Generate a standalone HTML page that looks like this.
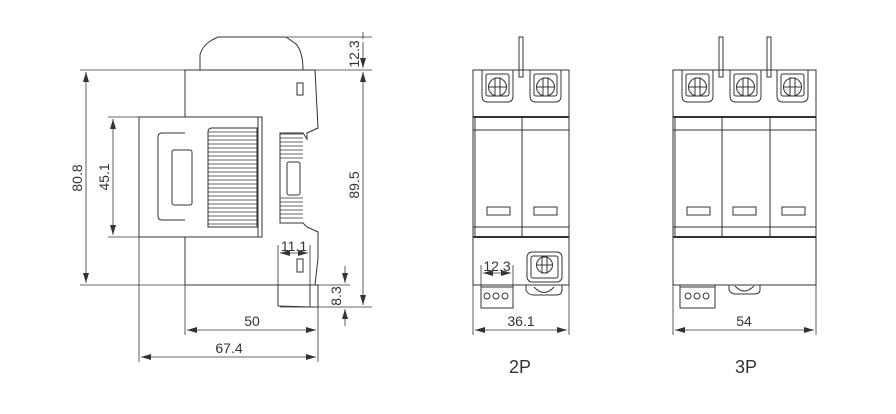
<!DOCTYPE html>
<html><head><meta charset="utf-8"><style>
html,body{margin:0;padding:0;background:#fff;}
svg{display:block;}
text{font-family:"Liberation Sans",sans-serif;fill:#333;font-size:14px;}
</style></head><body>
<svg width="896" height="414" viewBox="0 0 896 414" xmlns="http://www.w3.org/2000/svg">
<defs>
<marker id="a" markerWidth="10" markerHeight="6" refX="10" refY="3" orient="auto-start-reverse" markerUnits="userSpaceOnUse"><path d="M0,0 L10,3 L0,6 z" fill="#333"/></marker>
<g id="term"><path d="M0,0 v26 q0,6 6,6 h19 q6,0 6,-6 v-26" fill="none" stroke="#333"/><rect x="4" y="4" width="23" height="22" rx="2" fill="none" stroke="#333"/><circle cx="15.5" cy="17" r="9" fill="none" stroke="#333"/><rect x="13" y="8" width="5" height="18" fill="none" stroke="#333"/><line x1="6.5" y1="17" x2="24.5" y2="17" stroke="#333"/></g>
</defs>
<g stroke="#333" stroke-width="1" fill="none">
<path d="M200,70 V55 Q202,46 212,40 L218,37 H286 L296,44 Q303,52 303,70"/>
<path d="M185,70 H315 L318,128 L307,133 V139 L303,133 H280 V223 H303 L307,227 L318,232 V258 L315,285 H185 V237 H139 V117 H185 Z"/>
<rect x="139" y="117" width="123" height="120"/>
<line x1="258" y1="117" x2="258" y2="237"/>
<path d="M185,133 H162 Q158,133 158,137 V216 Q158,220 162,220 H185"/>
<rect x="172" y="150" width="20" height="55" rx="2"/>
<path d="M208,227 V132 Q208,128 212,128 H257 V227 Z"/>
<g stroke-width="0.8">
<line x1="208" y1="132" x2="257" y2="132"/><line x1="208" y1="136" x2="257" y2="136"/><line x1="208" y1="140" x2="257" y2="140"/><line x1="208" y1="144" x2="257" y2="144"/><line x1="208" y1="148" x2="257" y2="148"/><line x1="208" y1="152" x2="257" y2="152"/><line x1="208" y1="156" x2="257" y2="156"/><line x1="208" y1="160" x2="257" y2="160"/><line x1="208" y1="164" x2="257" y2="164"/><line x1="208" y1="168" x2="257" y2="168"/><line x1="208" y1="172" x2="257" y2="172"/><line x1="208" y1="176" x2="257" y2="176"/><line x1="208" y1="180" x2="257" y2="180"/><line x1="208" y1="184" x2="257" y2="184"/><line x1="208" y1="188" x2="257" y2="188"/><line x1="208" y1="192" x2="257" y2="192"/><line x1="208" y1="196" x2="257" y2="196"/><line x1="208" y1="200" x2="257" y2="200"/><line x1="208" y1="204" x2="257" y2="204"/><line x1="208" y1="208" x2="257" y2="208"/><line x1="208" y1="212" x2="257" y2="212"/><line x1="208" y1="216" x2="257" y2="216"/><line x1="208" y1="220" x2="257" y2="220"/><line x1="208" y1="224" x2="257" y2="224"/>
<line x1="280" y1="134" x2="303" y2="134"/><line x1="280" y1="138" x2="303" y2="138"/><line x1="280" y1="142" x2="303" y2="142"/><line x1="280" y1="146" x2="303" y2="146"/><line x1="280" y1="150" x2="303" y2="150"/><line x1="280" y1="154" x2="303" y2="154"/><line x1="280" y1="158" x2="303" y2="158"/><line x1="280" y1="198" x2="303" y2="198"/><line x1="280" y1="202" x2="303" y2="202"/><line x1="280" y1="206" x2="303" y2="206"/><line x1="280" y1="210" x2="303" y2="210"/><line x1="280" y1="214" x2="303" y2="214"/><line x1="280" y1="218" x2="303" y2="218"/>
</g>
<rect x="287" y="162" width="13" height="33" rx="2" fill="#fff"/>
<rect x="297" y="83" width="6" height="12"/>
<rect x="297" y="259" width="6" height="13"/>
<path d="M278,285 V306 L310,307 V285 M310,285 H318 V307 H310"/>
<g stroke-width="0.8">
<line x1="287" y1="37" x2="372" y2="37"/><line x1="80" y1="70" x2="372" y2="70"/>
<line x1="80" y1="285" x2="185" y2="285"/><line x1="318" y1="285" x2="350" y2="285"/>
<line x1="108" y1="117" x2="139" y2="117"/><line x1="108" y1="237" x2="139" y2="237"/>
<line x1="280" y1="307" x2="372" y2="307"/>
<line x1="86" y1="72" x2="86" y2="283" marker-start="url(#a)" marker-end="url(#a)"/>
<line x1="113" y1="119" x2="113" y2="235" marker-start="url(#a)" marker-end="url(#a)"/>
<line x1="363" y1="72" x2="363" y2="305" marker-start="url(#a)" marker-end="url(#a)"/>
<line x1="363" y1="42" x2="363" y2="68" marker-end="url(#a)"/><line x1="363" y1="32" x2="363" y2="39"/>
<line x1="345" y1="266" x2="345" y2="283" marker-end="url(#a)"/><line x1="345" y1="326" x2="345" y2="309" marker-end="url(#a)"/>
<line x1="278" y1="245" x2="278" y2="285"/><line x1="310" y1="245" x2="310" y2="285"/>
<line x1="280" y1="253" x2="308" y2="253" marker-start="url(#a)" marker-end="url(#a)"/>
<line x1="185" y1="285" x2="185" y2="335"/><line x1="139" y1="237" x2="139" y2="362"/><line x1="318" y1="307" x2="318" y2="362"/>
<line x1="187" y1="330" x2="316" y2="330" marker-start="url(#a)" marker-end="url(#a)"/>
<line x1="141" y1="357" x2="316" y2="357" marker-start="url(#a)" marker-end="url(#a)"/>
</g>
<rect x="473" y="70" width="96" height="215"/>
<line x1="473" y1="117" x2="569" y2="117" stroke-width="2"/><line x1="473" y1="130" x2="569" y2="130"/>
<line x1="473" y1="227" x2="569" y2="227"/><line x1="473" y1="237" x2="569" y2="237" stroke-width="2"/>
<line x1="475" y1="117" x2="475" y2="237"/>
<line x1="522" y1="117" x2="522" y2="237"/>
<rect x="519" y="37" width="4" height="40"/>
<use href="#term" x="482" y="70"/><use href="#term" x="530" y="70"/>
<rect x="487" y="207" width="23" height="8"/><rect x="534" y="207" width="23" height="8"/>
<rect x="527" y="252" width="35" height="30" rx="5"/>
<rect x="531" y="256" width="27" height="22" rx="2"/><circle cx="544.5" cy="265" r="8"/><rect x="542" y="257" width="5" height="16"/><line x1="536.5" y1="265" x2="552.5" y2="265"/>
<path d="M526,285 V290 Q528,295 534,295 H556 Q562,295 562,290 V285 M534,287 Q544,298 554,287"/>
<rect x="481" y="285" width="32" height="23"/><line x1="481" y1="287" x2="513" y2="287"/>
<circle cx="487" cy="296" r="3"/><circle cx="496" cy="296" r="3"/><circle cx="505" cy="296" r="3"/>
<g stroke-width="0.8">
<line x1="481" y1="265" x2="481" y2="285"/><line x1="513" y1="265" x2="513" y2="285"/>
<line x1="483" y1="273" x2="511" y2="273" marker-start="url(#a)" marker-end="url(#a)"/>
<line x1="473" y1="285" x2="473" y2="335"/><line x1="569" y1="285" x2="569" y2="335"/>
<line x1="475" y1="330" x2="567" y2="330" marker-start="url(#a)" marker-end="url(#a)"/>
</g>
<rect x="673" y="70" width="143" height="215"/>
<line x1="673" y1="117" x2="816" y2="117" stroke-width="2"/><line x1="673" y1="130" x2="816" y2="130"/>
<line x1="673" y1="227" x2="816" y2="227"/><line x1="673" y1="237" x2="816" y2="237" stroke-width="2"/>
<line x1="675" y1="117" x2="675" y2="237"/>
<line x1="722" y1="117" x2="722" y2="237"/><line x1="770" y1="117" x2="770" y2="237"/>
<rect x="719" y="37" width="4" height="40"/><rect x="767" y="37" width="4" height="40"/>
<use href="#term" x="682" y="70"/><use href="#term" x="730" y="70"/><use href="#term" x="777" y="70"/>
<rect x="687" y="207" width="23" height="8"/><rect x="733" y="207" width="23" height="8"/><rect x="782" y="207" width="23" height="8"/>
<path d="M729,285 V290 Q731,294 736,294 H754 Q760,294 760,290 V285 M735,286 Q744,296 754,286"/>
<rect x="680" y="285" width="35" height="23"/><line x1="680" y1="287" x2="715" y2="287"/>
<circle cx="688" cy="296" r="3"/><circle cx="697" cy="296" r="3"/><circle cx="706" cy="296" r="3"/>
<g stroke-width="0.8">
<line x1="673" y1="285" x2="673" y2="335"/><line x1="816" y1="285" x2="816" y2="335"/>
<line x1="675" y1="330" x2="814" y2="330" marker-start="url(#a)" marker-end="url(#a)"/>
</g>
</g>
<text transform="translate(363,54) rotate(-90)" text-anchor="middle" dy="-4">12.3</text>
<text transform="translate(86,178) rotate(-90)" text-anchor="middle" dy="-4">80.8</text>
<text transform="translate(113,177) rotate(-90)" text-anchor="middle" dy="-4">45.1</text>
<text transform="translate(363,185) rotate(-90)" text-anchor="middle" dy="-4">89.5</text>
<text transform="translate(345,296) rotate(-90)" text-anchor="middle" dy="-4">8.3</text>
<text x="294" y="251" text-anchor="middle">11.1</text>
<text x="252" y="326" text-anchor="middle">50</text>
<text x="229" y="353" text-anchor="middle">67.4</text>
<text x="497" y="271" text-anchor="middle">12.3</text>
<text x="521" y="326" text-anchor="middle">36.1</text>
<text x="744" y="326" text-anchor="middle">54</text>
<text x="520" y="373" text-anchor="middle" style="font-size:18px">2P</text>
<text x="746" y="373" text-anchor="middle" style="font-size:18px">3P</text>
</svg>
</body></html>
